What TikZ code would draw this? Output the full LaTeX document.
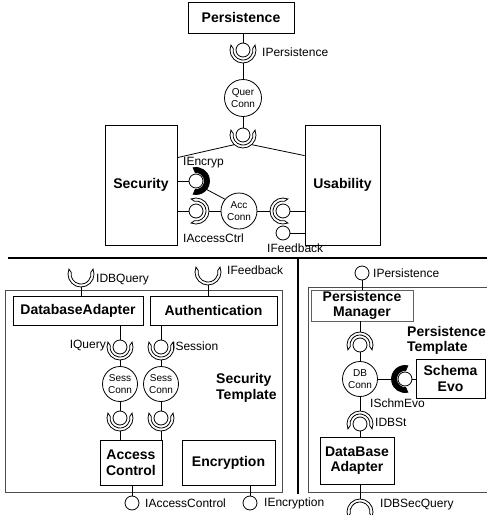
\documentclass[tikz,border=0pt]{standalone}
\usepackage{fontspec}
\setmainfont{Liberation Sans}
\usetikzlibrary{calc}
\tikzset{
  wire/.style={line width=0.8pt},
  bx/.style={draw, line width=0.8pt, fill=white, inner sep=0pt, align=center, font=\bfseries\fontsize{14}{15.5}\selectfont},
  gbx/.style={bx, draw=gray!75!black},
  tmplbox/.style={draw=gray!60!black, line width=0.8pt, inner sep=0pt},
  conn/.style={draw, circle, line width=0.8pt, fill=white, inner sep=0pt, minimum size=36pt, align=center, font=\fontsize{10}{12.5}\selectfont},
  ball/.style={draw, circle, line width=0.8pt, fill=white, inner sep=0pt, minimum size=14pt},
  lbl/.style={inner sep=0pt, font=\fontsize{12}{13.5}\selectfont},
  ttl/.style={inner sep=0pt, align=left, font=\bfseries\fontsize{14}{15.5}\selectfont},
  sock/.pic={\draw[line width=0.8pt, fill=white] (22:13) arc[start angle=22, end angle=-202, radius=13] -- (170:10) arc[start angle=170, end angle=370, radius=10] -- cycle;},
  socktk/.pic={\draw[line width=0.8pt, fill=black] (12:13.5) arc[start angle=12, end angle=-192, radius=13.5] -- (175:8.5) arc[start angle=175, end angle=365, radius=8.5] -- cycle;},
}
\begin{document}
\begin{tikzpicture}[x=1pt,y=1pt]
\useasboundingbox (0,0) rectangle (487,-515);

% ---------- top ----------
\node[bx, minimum width=106pt, minimum height=31pt] (pers) at (241,-17.5) {Persistence};
\node[ball] (b1) at (243,-50) {};
\pic at (b1.center) {sock};
\node[lbl, anchor=west] (l1) at (262,-52) {IPersistence};
\node[conn, minimum size=37pt] (qc) at (243,-98) {Quer\\Conn};
\node[ball] (b2) at (243,-135) {};
\pic at (b2.center) {sock};
\node[bx, minimum width=72pt, minimum height=120pt] (sec) at (141,-185) {Security};
\node[bx, minimum width=75pt, minimum height=120pt] (usa) at (342.5,-185) {Usability};
\draw[wire] (b1 |- pers.south) -- (b1.north);
\draw[wire] ($(b1.center)+(0,-13)$) -- (qc.north);
\draw[wire] (qc.south) -- (b2.north);
\draw[wire] ($(b2.center)+(228:13)$) -- ($(sec.north east)+(0,-33)$);
\draw[wire] ($(b2.center)+(-48:13)$) -- ($(usa.north west)+(0,-31)$);

\node[ball] (b3) at (196,-181) {};
\pic[rotate=90] at (b3.center) {socktk};
\draw[wire] (sec.east |- b3) -- (b3.west);
\node[lbl, anchor=west] at (183,-163) {IEncryp};
\node[conn] (acc) at (239,-211) {Acc\\Conn};
\draw[wire] ($(b3.center)+(-40:12)$) -- (acc.140);

\node[ball] (b4) at (196,-211) {};
\pic[rotate=90] at (b4.center) {sock};
\draw[wire] (sec.east |- b4) -- (b4.west);
\draw[wire] ($(b4.center)+(13,0)$) -- (acc.west);
\node[lbl, anchor=west] at (183,-238) {IAccessCtrl};

\node[ball] (b5) at (283,-211) {};
\pic[rotate=-90] at (b5.center) {sock};
\draw[wire] (acc.east) -- ($(b5.center)+(-13,0)$);
\draw[wire] (b5.east) -- (usa.west |- b5);
\node[ball] (b6) at (283,-233) {};
\draw[wire] (b6.east) -- (usa.west |- b6);
\node[lbl, anchor=west] at (267,-248) {IFeedback};

% ---------- dividers ----------
\draw[line width=2.5pt] (8,-258) -- (487,-258);
\draw[line width=2pt] (298,-258) -- (298,-494);

% ---------- security template ----------
\node[tmplbox, minimum width=277pt, minimum height=202pt] (stmp) at (143.5,-391) {};
\coordinate (s1) at (81,-274);
\pic at (s1) {sock};
\node[lbl, anchor=west] at (96,-280) {IDBQuery};
\coordinate (s2) at (208,-272);
\pic at (s2) {sock};
\node[lbl, anchor=west] at (227,-270) {IFeedback};
\node[bx, minimum width=130pt, minimum height=29pt] (da) at (78,-310.5) {DatabaseAdapter};
\node[bx, minimum width=127pt, minimum height=29pt] (au) at (213.5,-310.5) {Authentication};
\draw[wire] ($(s1)+(0,-13)$) -- (s1 |- da.north);
\draw[wire] ($(s2)+(0,-13)$) -- (s2 |- au.north);

\node[ball] (b7) at (120,-347) {};
\pic at (b7.center) {sock};
\node[ball] (b8) at (161,-347) {};
\pic at (b8.center) {sock};
\draw[wire] (b7 |- da.south) -- (b7.north);
\draw[wire] (b8 |- au.south) -- (b8.north);
\node[lbl, anchor=east] at (106,-346) {IQuery};
\node[lbl, anchor=west] at (172,-346) {ISession};
\node[conn, minimum size=35pt] (sc1) at (120,-384) {Sess\\Conn};
\node[conn, minimum size=35pt] (sc2) at (161,-384) {Sess\\Conn};
\draw[wire] ($(b7.center)+(0,-13)$) -- (sc1.north);
\draw[wire] ($(b8.center)+(0,-13)$) -- (sc2.north);
\node[ball] (b9) at (120,-418) {};
\pic at (b9.center) {sock};
\node[ball] (b10) at (161,-418) {};
\pic at (b10.center) {sock};
\draw[wire] (sc1.south) -- (b9.north);
\draw[wire] (sc2.south) -- (b10.north);
\node[bx, minimum width=62pt, minimum height=45pt] (ac) at (131,-462.5) {Access\\Control};
\node[bx, minimum width=93pt, minimum height=45pt] (enc) at (228.5,-462.5) {Encryption};
\draw[wire] ($(b9.center)+(0,-13)$) -- (b9 |- ac.north);
\draw[wire] ($(b10.center)+(0,-13)$) -- (b10 |- ac.north);
\node[ttl, anchor=west] at (216,-388) {Security\\Template};
\node[ball] (b11) at (132,-503) {};
\draw[wire] (b11 |- ac.south) -- (b11.north);
\node[lbl, anchor=west] at (145,-503) {IAccessControl};
\node[ball] (b12) at (250,-503) {};
\draw[wire] (b12 |- enc.south) -- (b12.north);
\node[lbl, anchor=west] at (264,-503) {IEncryption};

% ---------- persistence template ----------
\draw[draw=gray!60!black, line width=0.8pt] (487,-287) -- (308,-287) -- (308,-492) -- (487,-492);
\node[ball] (b13) at (362,-273) {};
\node[lbl, anchor=west] at (373,-273) {IPersistence};
\node[gbx, minimum width=102pt, minimum height=31pt] (pm) at (362,-305.5) {Persistence\\Manager};
\draw[wire] (b13.south) -- (b13 |- pm.north);
\node[ttl, anchor=north west] at (407,-326) {Persistence\\Template};
\node[ball] (b14) at (360,-345) {};
\pic[rotate=180] at (b14.center) {sock};
\draw[wire] (b14 |- pm.south) -- ($(b14.center)+(0,13)$);
\node[conn, minimum size=35pt] (dbc) at (360,-379) {DB\\Conn};
\draw[wire] (b14.south) -- (dbc.north);
\node[ball] (b15) at (405,-379) {};
\pic[rotate=-90] at (b15.center) {socktk};
\node[bx, minimum width=69pt, minimum height=39pt] (se) at (450.5,-378.5) {Schema\\Evo};
\draw[wire] (dbc.east) -- ($(b15.center)+(-13.5,0)$);
\draw[wire] (b15.east) -- (se.west |- b15);
\node[lbl, anchor=west] at (370,-403) {ISchmEvo};
\node[ball] (b16) at (360,-424) {};
\pic[rotate=180] at (b16.center) {sock};
\draw[wire] (dbc.south) -- ($(b16.center)+(0,13)$);
\node[lbl, anchor=west] at (375,-422) {IDBSt};
\node[bx, minimum width=74pt, minimum height=47pt] (dba) at (357,-460.5) {DataBase\\Adapter};
\draw[wire] (b16.south) -- (b16 |- dba.north);
\coordinate (s3) at (360,-512);
\pic[rotate=180] at (s3) {sock};
\draw[wire] (s3 |- dba.south) -- ($(s3)+(0,13)$);
\node[lbl, anchor=west] at (380,-505) {IDBSecQuery};
\end{tikzpicture}
\end{document}
